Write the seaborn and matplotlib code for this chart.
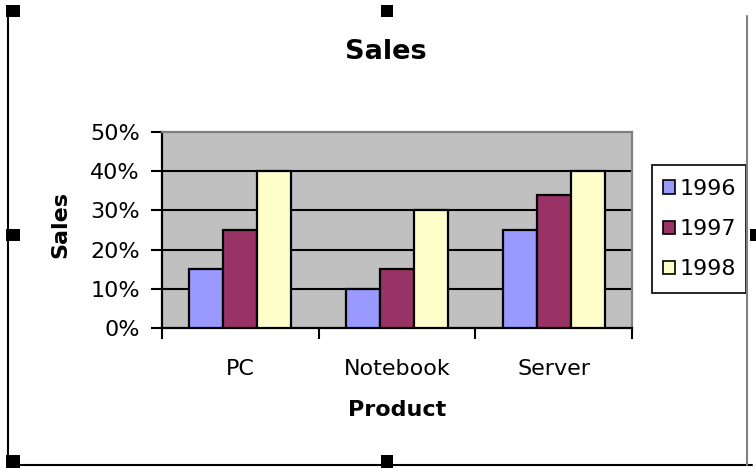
import matplotlib
matplotlib.use("Agg")
import matplotlib.pyplot as plt
import matplotlib.patches as mpatches
from matplotlib.ticker import FixedLocator, FuncFormatter
import seaborn as sns
import pandas as pd

# ---- data ----
products = ["PC", "Notebook", "Server"]
years = ["1996", "1997", "1998"]
sales_1996 = [15, 10, 25]
sales_1997 = [25, 15, 34]
sales_1998 = [40, 30, 40]
yticks = [0, 10, 20, 30, 40, 50]
colors = ["#9999FF", "#993366", "#FFFFCC"]

rows = []
for yr, vals in zip(years, [sales_1996, sales_1997, sales_1998]):
    for p, v in zip(products, vals):
        rows.append({"Product": p, "Year": yr, "Sales": v})
df = pd.DataFrame(rows)

sns.set_theme(style="white")
plt.rcParams["font.family"] = ["DejaVu Sans"]
plt.rcParams["text.color"] = "black"

W, H = 756, 468
fig = plt.figure(figsize=(W / 100, H / 100), dpi=100)
fig.patch.set_facecolor("white")

def fx(px):
    return px / W

def fy(py):
    return 1 - py / H

L, R, T, B = 162, 632, 132, 328
ax = fig.add_axes([fx(L), fy(B), fx(R) - fx(L), fy(T) - fy(B)])
ax.set_facecolor("#C0C0C0")

sns.barplot(data=df, x="Product", y="Sales", hue="Year", order=products,
            hue_order=years, palette=colors, width=0.65, gap=0,
            edgecolor="black", linewidth=1.6, saturation=1, ax=ax, legend=False,
            zorder=3)

ax.set_xlim(-0.5, 2.5)
ax.set_ylim(0, 50)
ax.yaxis.set_major_locator(FixedLocator(yticks))
ax.yaxis.set_major_formatter(FuncFormatter(lambda v, p: f"{int(v)}%"))
for g in yticks[1:-1]:
    ax.axhline(g, color="black", lw=1.5, zorder=1)

ax.set_xticks(range(len(products)))
ax.set_xticklabels(products)
ax.set_xticks([-0.5, 0.5, 1.5, 2.5], minor=True)
ax.tick_params(axis="x", which="major", length=0, pad=22, labelsize=16, colors="black")
ax.tick_params(axis="x", which="minor", length=8, width=1.5, direction="out",
               color="black", bottom=True)
ax.tick_params(axis="y", which="major", length=8, width=1.5, direction="out",
               pad=8, labelsize=16, colors="black", left=True)

for s in ["left", "bottom"]:
    ax.spines[s].set_color("black")
    ax.spines[s].set_linewidth(1.6)
for s in ["top", "right"]:
    ax.spines[s].set_color("#808080")
    ax.spines[s].set_linewidth(1.6)

ax.set_xlabel("Product", fontsize=16, fontweight="bold", color="black")
ax.xaxis.set_label_coords(0.5, (B - 410) / (B - T))
ax.xaxis.label.set_va("center")
ax.set_ylabel("Sales", fontsize=16, fontweight="bold", color="black")
ax.yaxis.set_label_coords((60 - L) / (R - L), (B - 224) / (B - T))
ax.yaxis.label.set_va("center")

fig.text(fx(386), fy(52), "Sales", fontsize=19.5, fontweight="bold",
         ha="center", va="center", color="black")

handles = [mpatches.Patch(facecolor=c, edgecolor="black", linewidth=1.2) for c in colors]
leg = fig.legend(handles, years, loc="upper left",
                 bbox_to_anchor=(fx(649), fy(165)), frameon=False,
                 fontsize=16, handlelength=0.55, handleheight=0.55,
                 handletextpad=0.2, labelspacing=0.91, borderpad=0.63,
                 borderaxespad=0)
for t in leg.get_texts():
    t.set_color("black")
# legend box
fig.add_artist(mpatches.Rectangle((fx(652), fy(293)), 94 / W, 128 / H,
                                  transform=fig.transFigure, facecolor="none",
                                  edgecolor="black", linewidth=1.2))

# chart frame lines and selection handles
fig.add_artist(plt.Line2D([fx(7.5), fx(7.5)], [fy(16), fy(465)], color="black", lw=1.5))
fig.add_artist(plt.Line2D([fx(7), fx(752)], [fy(465), fy(465)], color="black", lw=1.5))
fig.add_artist(plt.Line2D([fx(747), fx(747)], [fy(16), fy(465)], color="#808080", lw=1.5))
for (x0, y0, w, h) in [(6, 5, 14, 12), (381, 5, 12, 12), (6, 229, 14, 12),
                       (750, 229, 6, 12), (6, 455, 14, 13), (381, 455, 12, 13)]:
    fig.add_artist(mpatches.Rectangle((fx(x0), fy(y0 + h)), w / W, h / H,
                                      transform=fig.transFigure, facecolor="black",
                                      edgecolor="none"))

fig.savefig("out.png", dpi=100)
